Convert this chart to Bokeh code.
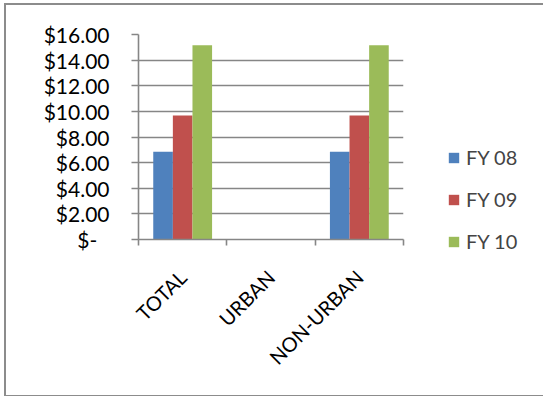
from bokeh.plotting import figure
from bokeh.models import FixedTicker, Legend, LegendItem, ColumnDataSource
from bokeh.transform import dodge
from bokeh.embed import file_html
from bokeh.resources import INLINE

categories = ["TOTAL", "URBAN", "NON-URBAN"]
series = ["FY 08", "FY 09", "FY 10"]
fy08 = [6.84, 0.0, 6.84]
fy09 = [9.68, 0.0, 9.68]
fy10 = [15.17, 0.0, 15.17]
colors = ["#4F81BD", "#C0504D", "#9BBB59"]
y_ticks = [0, 2, 4, 6, 8, 10, 12, 14, 16]
y_labels = ["$-\u2007", "$2.00", "$4.00", "$6.00", "$8.00", "$10.00", "$12.00", "$14.00", "$16.00"]

pos = [i + 0.5 for i in range(len(categories))]
src = ColumnDataSource(dict(x=pos, fy08=fy08, fy09=fy09, fy10=fy10))

FONT = "Lato"
GRAY = "#868686"

p = figure(frame_width=265, frame_height=205, x_range=(0, 3), y_range=(0, 16),
           output_backend="svg", toolbar_location=None,
           min_border_left=132, min_border_top=29, min_border_right=141, min_border_bottom=156)
p.styles = {"border": "2px solid #8c8c8c", "box-sizing": "border-box", "margin": "3px 0 0 4px"}
p.outline_line_color = None

bw = 0.222
renderers = []
for field, off, col in zip(["fy08", "fy09", "fy10"], [-bw, 0, bw], colors):
    r = p.vbar(x=dodge("x", off), top=field, width=bw, bottom=0, source=src,
               fill_color=col, line_color=None)
    renderers.append(r)

# axes
p.xgrid.grid_line_color = None
p.ygrid.grid_line_color = GRAY
p.ygrid.grid_line_width = 1.6
p.yaxis.ticker = FixedTicker(ticks=y_ticks)
p.yaxis.major_label_overrides = {t: l for t, l in zip(y_ticks, y_labels)}
p.yaxis.minor_tick_line_color = None
p.yaxis.major_tick_in = 0
p.yaxis.major_tick_out = 7
p.yaxis.axis_line_color = GRAY
p.yaxis.axis_line_width = 1.6
p.yaxis.major_tick_line_color = GRAY
p.yaxis.major_tick_line_width = 1.6
p.yaxis.major_label_text_font = FONT
p.yaxis.major_label_text_font_size = "21px"
p.yaxis.major_label_text_color = "#000000"
p.yaxis.major_label_standoff = 22

p.xaxis.ticker = FixedTicker(ticks=pos, minor_ticks=[0, 1, 2, 3])
p.xaxis.major_label_overrides = {pv: c for pv, c in zip(pos, categories)}
p.xaxis.major_tick_in = 0
p.xaxis.major_tick_out = 0
p.xaxis.minor_tick_in = 0
p.xaxis.minor_tick_out = 6
p.xaxis.minor_tick_line_color = GRAY
p.xaxis.minor_tick_line_width = 1.6
p.xaxis.axis_line_color = GRAY
p.xaxis.axis_line_width = 1.6
p.xaxis.major_label_orientation = 0.785398
p.xaxis.major_label_text_font = FONT
p.xaxis.major_label_text_font_size = "20px"
p.xaxis.major_label_text_color = "#000000"
p.xaxis.major_label_standoff = 28

legend = Legend(items=[LegendItem(label=s, renderers=[r]) for s, r in zip(series, renderers)],
                location=(44, -14), orientation="vertical",
                label_text_font=FONT, label_text_font_size="20px",
                glyph_width=13, glyph_height=13, spacing=18, label_standoff=6,
                padding=0, margin=0,
                border_line_color=None, background_fill_alpha=0)
p.add_layout(legend, "right")

open("out.html", "w").write(file_html(p, INLINE))
